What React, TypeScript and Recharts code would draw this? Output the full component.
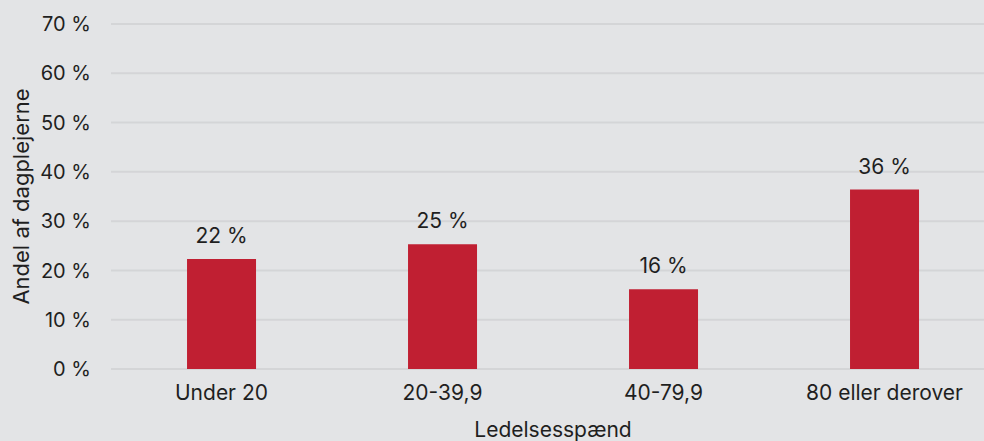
import { BarChart, Bar, XAxis, YAxis, CartesianGrid, LabelList } from "recharts";

const categories = ["Under 20", "20-39,9", "40-79,9", "80 eller derover"];
const shares = [22.3, 25.3, 16.2, 36.4];
const shareLabels = ["22 %", "25 %", "16 %", "36 %"];
const yTicks = [0, 10, 20, 30, 40, 50, 60, 70];

const data = categories.map((name, i) => ({ name, value: shares[i], label: shareLabels[i] }));

const FONT = "Inter, 'Noto Sans', sans-serif";
const TEXT = "#1f1f1f";

export default function App() {
  return (
    <div
      style={{
        position: "absolute",
        left: 0,
        top: 0,
        width: 984,
        height: 441,
        overflow: "hidden",
        background: "#e3e4e6",
        fontFamily: FONT,
      }}
    >
      <BarChart
        width={995}
        height={441}
        data={data}
        margin={{ top: 24, right: 0, bottom: 0, left: 0 }}
        barCategoryGap="34.4%"
      >
        <CartesianGrid vertical={false} stroke="#d4d5d7" strokeWidth={2} />
        <XAxis
          dataKey="name"
          axisLine={false}
          tickLine={false}
          tickSize={0}
          tickMargin={16}
          height={72}
          tick={{ fill: TEXT, fontSize: 21, fontFamily: FONT }}
          label={{ value: "Ledelsesspænd", position: "insideBottom", offset: 4, fill: TEXT, fontSize: 21, fontFamily: FONT }}
        />
        <YAxis
          domain={[0, 70]}
          ticks={yTicks}
          axisLine={false}
          tickLine={false}
          tickSize={0}
          tickMargin={20}
          width={111}
          tickFormatter={(v: number) => `${v} %`}
          tick={{ fill: TEXT, fontSize: 20, fontFamily: FONT }}
          label={{
            value: "Andel af dagplejerne",
            angle: -90,
            position: "insideLeft",
            offset: 0,
            dx: 21,
            fill: TEXT,
            fontSize: 22,
            fontFamily: FONT,
            style: { textAnchor: "middle" },
          }}
        />
        <Bar dataKey="value" fill="#c01f32" isAnimationActive={false}>
          <LabelList dataKey="label" position="top" offset={16} fill={TEXT} fontSize={21} fontFamily={FONT} />
        </Bar>
      </BarChart>
    </div>
  );
}
